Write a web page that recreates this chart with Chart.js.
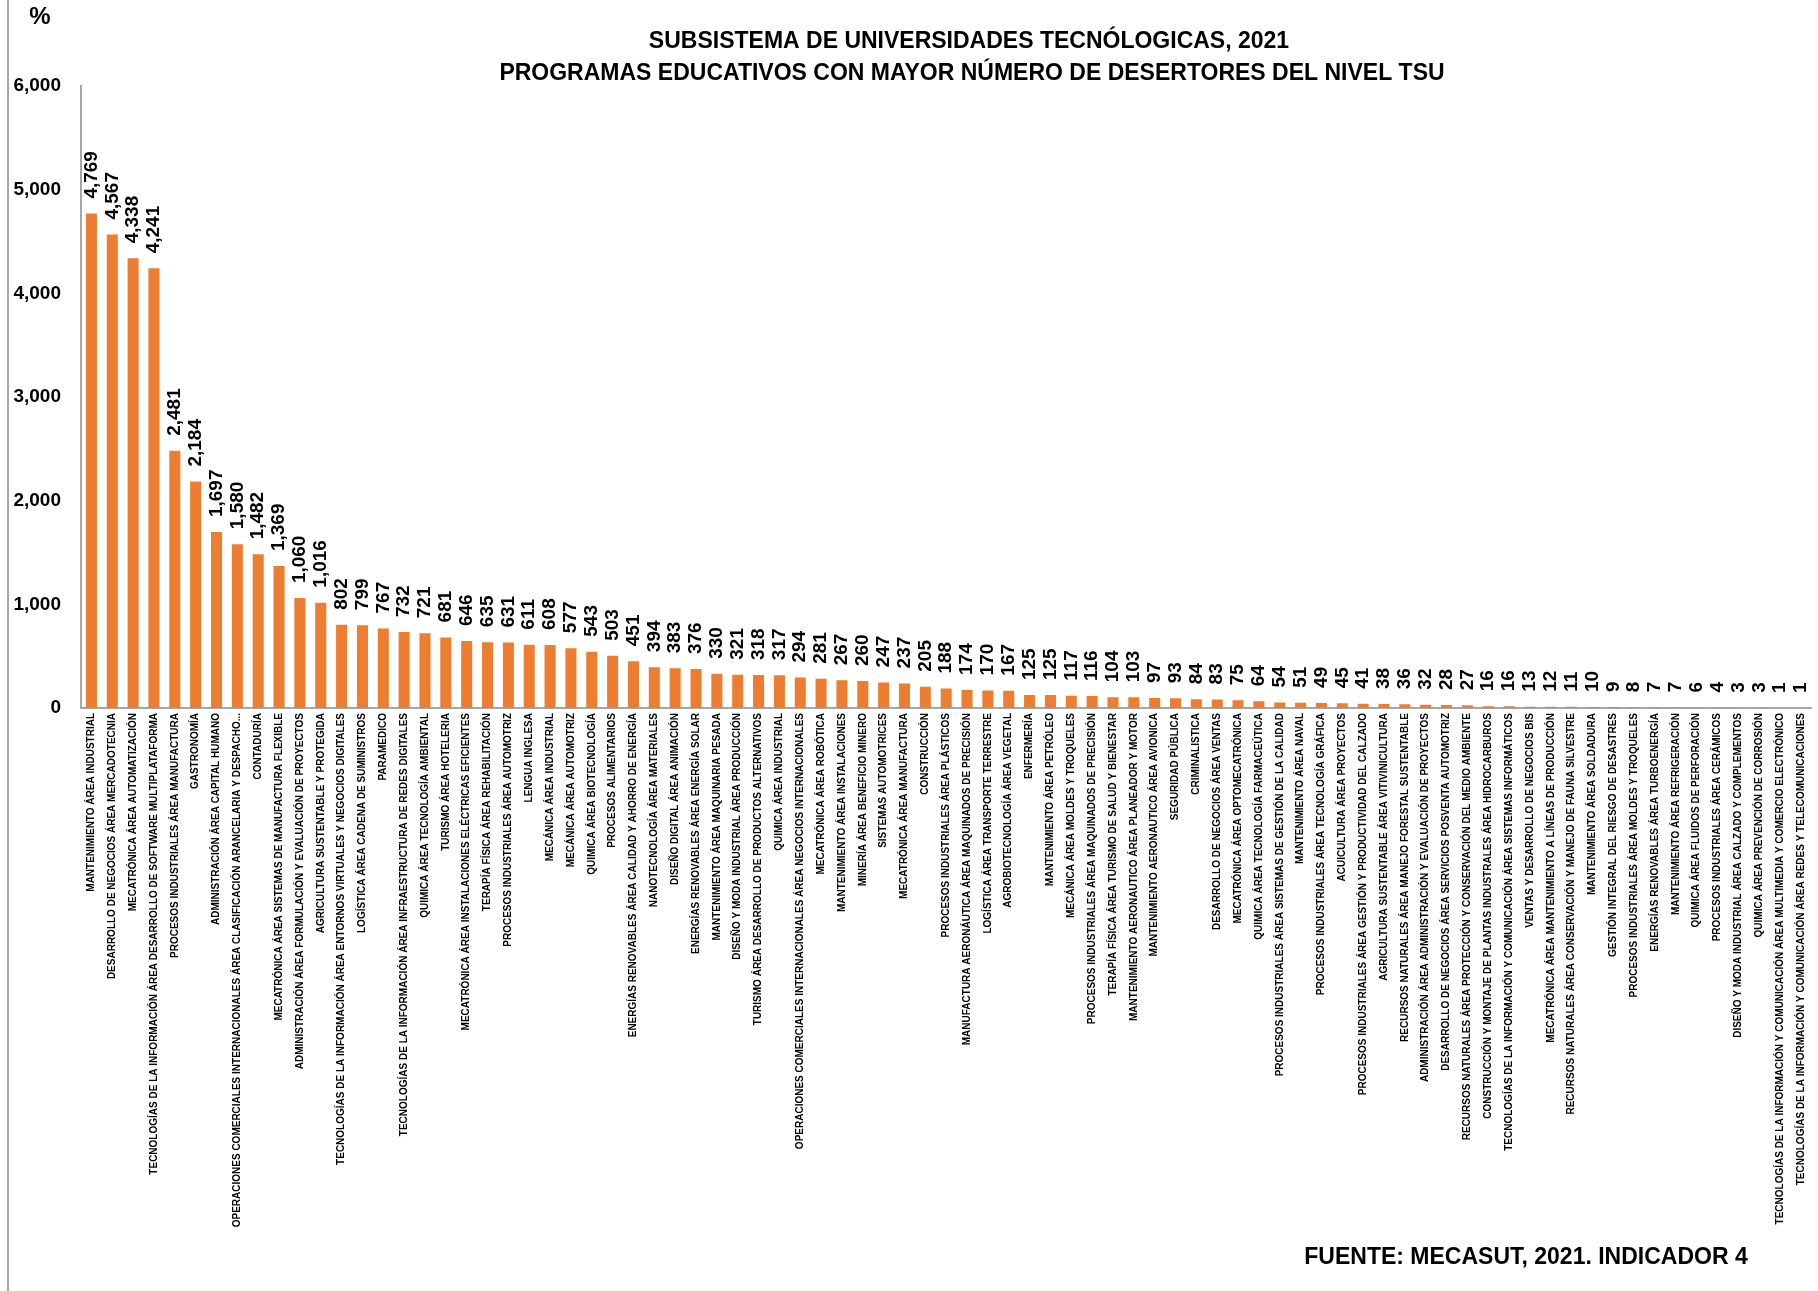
<!DOCTYPE html>
<html>
<head>
<meta charset="utf-8">
<title>Desertores TSU 2021</title>
<script src="https://cdn.jsdelivr.net/npm/chart.js@4.4.1/dist/chart.umd.min.js"></script>
<style>
  html, body { margin: 0; padding: 0; background: #fff; }
  canvas { display: block; }
</style>
</head>
<body>
<canvas id="desertoresChart" width="1818" height="1291"></canvas>
<script>
// Programas educativos (eje X)
const programas = [
  'MANTENIMIENTO ÁREA INDUSTRIAL',
  'DESARROLLO DE NEGOCIOS ÁREA MERCADOTECNIA',
  'MECATRÓNICA ÁREA AUTOMATIZACIÓN',
  'TECNOLOGÍAS DE LA INFORMACIÓN ÁREA DESARROLLO DE SOFTWARE MULTIPLATAFORMA',
  'PROCESOS INDUSTRIALES ÁREA MANUFACTURA',
  'GASTRONOMÍA',
  'ADMINISTRACIÓN ÁREA CAPITAL HUMANO',
  'OPERACIONES COMERCIALES INTERNACIONALES ÁREA CLASIFICACIÓN ARANCELARIA Y DESPACHO...',
  'CONTADURÍA',
  'MECATRÓNICA ÁREA SISTEMAS DE MANUFACTURA FLEXIBLE',
  'ADMINISTRACIÓN ÁREA FORMULACIÓN Y EVALUACIÓN DE PROYECTOS',
  'AGRICULTURA SUSTENTABLE Y PROTEGIDA',
  'TECNOLOGÍAS DE LA INFORMACIÓN ÁREA ENTORNOS VIRTUALES Y NEGOCIOS DIGITALES',
  'LOGÍSTICA ÁREA CADENA DE SUMINISTROS',
  'PARAMEDICO',
  'TECNOLOGÍAS DE LA INFORMACIÓN ÁREA INFRAESTRUCTURA DE REDES DIGITALES',
  'QUIMICA ÁREA TECNOLOGÍA AMBIENTAL',
  'TURISMO ÁREA HOTELERIA',
  'MECATRÓNICA ÁREA INSTALACIONES ELÉCTRICAS EFICIENTES',
  'TERAPÍA FÍSICA ÁREA REHABILITACIÓN',
  'PROCESOS INDUSTRIALES ÁREA AUTOMOTRIZ',
  'LENGUA INGLESA',
  'MECÁNICA ÁREA INDUSTRIAL',
  'MECÁNICA ÁREA AUTOMOTRIZ',
  'QUIMICA ÁREA BIOTECNOLOGÍA',
  'PROCESOS ALIMENTARIOS',
  'ENERGÍAS RENOVABLES ÁREA CALIDAD Y AHORRO DE ENERGÍA',
  'NANOTECNOLOGÍA ÁREA MATERIALES',
  'DISEÑO DIGITAL ÁREA ANIMACIÓN',
  'ENERGÍAS RENOVABLES ÁREA ENERGÍA SOLAR',
  'MANTENIMIENTO ÁREA MAQUINARIA PESADA',
  'DISEÑO Y MODA INDUSTRIAL ÁREA PRODUCCIÓN',
  'TURISMO ÁREA DESARROLLO DE PRODUCTOS ALTERNATIVOS',
  'QUIMICA ÁREA INDUSTRIAL',
  'OPERACIONES COMERCIALES INTERNACIONALES ÁREA NEGOCIOS INTERNACIONALES',
  'MECATRÓNICA ÁREA ROBÓTICA',
  'MANTENIMIENTO ÁREA INSTALACIONES',
  'MINERÍA ÁREA BENEFICIO MINERO',
  'SISTEMAS AUTOMOTRICES',
  'MECATRÓNICA ÁREA MANUFACTURA',
  'CONSTRUCCIÓN',
  'PROCESOS INDUSTRIALES ÁREA PLÁSTICOS',
  'MANUFACTURA AERONÁUTICA ÁREA MAQUINADOS DE PRECISIÓN',
  'LOGÍSTICA ÁREA TRANSPORTE TERRESTRE',
  'AGROBIOTECNOLOGÍA ÁREA VEGETAL',
  'ENFERMERÍA',
  'MANTENIMIENTO ÁREA PETRÓLEO',
  'MECÁNICA ÁREA MOLDES Y TROQUELES',
  'PROCESOS INDUSTRIALES ÁREA MAQUINADOS DE PRECISIÓN',
  'TERAPÍA FÍSICA ÁREA TURISMO DE SALUD Y BIENESTAR',
  'MANTENIMIENTO AERONAUTICO ÁREA PLANEADOR Y MOTOR',
  'MANTENIMIENTO AERONAUTICO ÁREA AVIONICA',
  'SEGURIDAD PÚBLICA',
  'CRIMINALISTICA',
  'DESARROLLO DE NEGOCIOS ÁREA VENTAS',
  'MECATRÓNICA ÁREA OPTOMECATRÓNICA',
  'QUIMICA ÁREA TECNOLOGÍA FARMACEÚTICA',
  'PROCESOS INDUSTRIALES ÁREA SISTEMAS DE GESTIÓN DE LA CALIDAD',
  'MANTENIMIENTO ÁREA NAVAL',
  'PROCESOS INDUSTRIALES ÁREA TECNOLOGÍA GRÁFICA',
  'ACUICULTURA ÁREA PROYECTOS',
  'PROCESOS INDUSTRIALES ÁREA GESTIÓN Y PRODUCTIVIDAD DEL CALZADO',
  'AGRICULTURA SUSTENTABLE ÁREA VITIVINICULTURA',
  'RECURSOS NATURALES ÁREA MANEJO FORESTAL SUSTENTABLE',
  'ADMINISTRACIÓN ÁREA ADMINISTRACIÓN Y EVALUACIÓN DE PROYECTOS',
  'DESARROLLO DE NEGOCIOS ÁREA SERVICIOS POSVENTA AUTOMOTRIZ',
  'RECURSOS NATURALES ÁREA PROTECCIÓN Y CONSERVACIÓN DEL MEDIO AMBIENTE',
  'CONSTRUCCIÓN Y MONTAJE DE PLANTAS INDUSTRALES ÁREA HIDROCARBUROS',
  'TECNOLOGÍAS DE LA INFORMACIÓN Y COMUNICACIÓN ÁREA SISTEMAS INFORMÁTICOS',
  'VENTAS Y DESARROLLO DE NEGOCIOS BIS',
  'MECATRÓNICA ÁREA MANTENIMIENTO A LÍNEAS DE PRODUCCIÓN',
  'RECURSOS NATURALES ÁREA CONSERVACIÓN Y MANEJO DE FAUNA SILVESTRE',
  'MANTENIMIENTO ÁREA SOLDADURA',
  'GESTIÓN INTEGRAL DEL RIESGO DE DESASTRES',
  'PROCESOS INDUSTRIALES ÁREA MOLDES Y TROQUELES',
  'ENERGÍAS RENOVABLES ÁREA TURBOENERGÍA',
  'MANTENIMIENTO ÁREA REFRIGERACIÓN',
  'QUIMICA ÁREA FLUIDOS DE PERFORACIÓN',
  'PROCESOS INDUSTRIALES ÁREA CERÁMICOS',
  'DISEÑO Y MODA INDUSTRIAL ÁREA CALZADO Y COMPLEMENTOS',
  'QUIMICA ÁREA PREVENCIÓN DE CORROSIÓN',
  'TECNOLOGÍAS DE LA INFORMACIÓN Y COMUNICACIÓN ÁREA MULTIMEDIA Y COMERCIO ELECTRÓNICO',
  'TECNOLOGÍAS DE LA INFORMACIÓN Y COMUNICACIÓN ÁREA REDES Y TELECOMUNICACIONES'
];

// Número de desertores por programa
const desertores = [
  4769, 4567, 4338, 4241, 2481, 2184, 1697, 1580, 1482, 1369,
  1060, 1016, 802, 799, 767, 732, 721, 681, 646, 635,
  631, 611, 608, 577, 543, 503, 451, 394, 383, 376,
  330, 321, 318, 317, 294, 281, 267, 260, 247, 237,
  205, 188, 174, 170, 167, 125, 125, 117, 116, 104,
  103, 97, 93, 84, 83, 75, 64, 54, 51, 49,
  45, 41, 38, 36, 32, 28, 27, 16, 16, 13,
  12, 11, 10, 9, 8, 7, 7, 6, 4, 3,
  3, 1, 1
];

// Eje Y
const yMin = 0;
const yMax = 6000;
const yStep = 1000;

const titulo = [
  'SUBSISTEMA DE UNIVERSIDADES TECNÓLOGICAS, 2021',
  'PROGRAMAS EDUCATIVOS CON MAYOR NÚMERO DE DESERTORES DEL NIVEL TSU'
];
const unidad = '%';
const fuente = 'FUENTE: MECASUT, 2021. INDICADOR 4';

const FONT = "'Liberation Sans', Arial, sans-serif";
const naranja = '#ED7D31';
const gris = '#A6A6A6';

const fmt = v => Number(v).toLocaleString('en-US');

// Value labels above each bar, rotated
const etiquetasPlugin = {
  id: 'etiquetas',
  afterDatasetsDraw(chart) {
    const ctx = chart.ctx;
    const meta = chart.getDatasetMeta(0);
    ctx.save();
    ctx.fillStyle = '#000';
    ctx.font = 'bold 19px ' + FONT;
    ctx.textAlign = 'left';
    ctx.textBaseline = 'middle';
    meta.data.forEach((bar, i) => {
      ctx.save();
      ctx.translate(bar.x, bar.y - 15);
      ctx.rotate(-Math.PI / 2);
      ctx.fillText(fmt(desertores[i]), 0, 0);
      ctx.restore();
    });
    ctx.restore();
  }
};

// Titles, unit, source and the left frame line
const textosPlugin = {
  id: 'textos',
  afterDraw(chart) {
    const ctx = chart.ctx;
    ctx.save();
    ctx.strokeStyle = gris;
    ctx.lineWidth = 2;
    ctx.beginPath();
    ctx.moveTo(8, 0);
    ctx.lineTo(8, chart.height);
    ctx.stroke();

    ctx.fillStyle = '#000';
    ctx.textBaseline = 'middle';
    ctx.textAlign = 'center';
    ctx.font = 'bold 24px ' + FONT;
    ctx.fillText(unidad, 40, 17);

    ctx.font = 'bold 23px ' + FONT;
    ctx.fillText(titulo[0], 969, 42);
    ctx.fillText(titulo[1], 972, 74);

    ctx.font = 'bold 23px ' + FONT;
    ctx.fillText(fuente, 1526, 1258);
    ctx.restore();
  }
};

const ctx = document.getElementById('desertoresChart').getContext('2d');
const desertoresChart = new Chart(ctx, {
  type: 'bar',
  data: {
    labels: programas,
    datasets: [{
      data: desertores,
      backgroundColor: naranja,
      borderWidth: 0,
      categoryPercentage: 1.0,
      barPercentage: 0.53
    }]
  },
  options: {
    responsive: false,
    animation: false,
    devicePixelRatio: 1,
    layout: {
      padding: { top: 86, left: 8, right: 6, bottom: 0 }
    },
    plugins: {
      legend: { display: false },
      tooltip: { enabled: false },
      title: { display: false }
    },
    scales: {
      x: {
        grid: { display: false, drawTicks: false },
        border: { color: gris, width: 2 },
        ticks: {
          autoSkip: false,
          maxRotation: 90,
          minRotation: 90,
          padding: 5,
          color: '#000',
          font: { family: FONT, size: 10, weight: 'bold' }
        },
        afterFit(scale) { scale.height = 1291 - 708; }
      },
      y: {
        min: yMin,
        max: yMax,
        grid: { display: false, drawTicks: false },
        border: { color: gris, width: 2 },
        ticks: {
          stepSize: yStep,
          padding: 20,
          color: '#000',
          font: { family: FONT, size: 19, weight: 'bold' },
          callback: v => fmt(v)
        },
        afterFit(scale) { scale.width = 81 - 8; }
      }
    }
  },
  plugins: [etiquetasPlugin, textosPlugin]
});
</script>
</body>
</html>
